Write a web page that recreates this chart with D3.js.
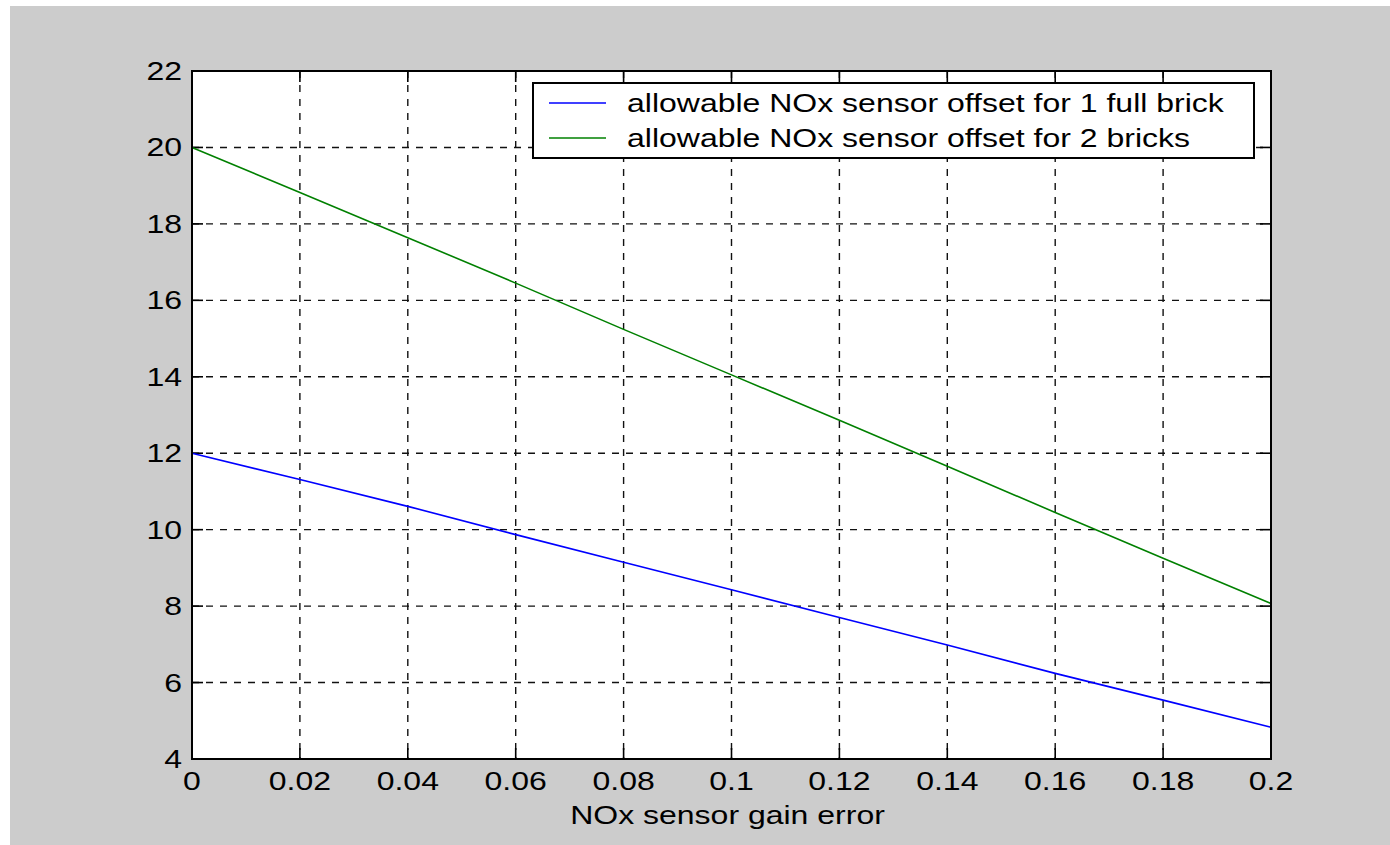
<!DOCTYPE html>
<html>
<head>
<meta charset="utf-8">
<script src="https://cdn.jsdelivr.net/npm/d3@7"></script>
<style>
  body { margin: 0; background: #fff; }
  svg { display: block; }
  text { font-family: "Liberation Sans", Arial, sans-serif; fill: #000; }
</style>
</head>
<body>
<svg id="chart" width="1390" height="845"></svg>
<script>
// data
var gainError = [0, 0.02, 0.04, 0.06, 0.08, 0.1, 0.12, 0.14, 0.16, 0.18, 0.2];
var offsetOneBrick = [12.0, 11.31, 10.61, 9.87, 9.15, 8.43, 7.70, 6.98, 6.24, 5.54, 4.83];
var offsetTwoBricks = [20.0, 18.82, 17.64, 16.45, 15.24, 14.05, 12.86, 11.66, 10.45, 9.25, 8.07];
var xTicks = [0, 0.02, 0.04, 0.06, 0.08, 0.1, 0.12, 0.14, 0.16, 0.18, 0.2];
var xTickLabels = ['0', '0.02', '0.04', '0.06', '0.08', '0.1', '0.12', '0.14', '0.16', '0.18', '0.2'];
var yTicks = [4, 6, 8, 10, 12, 14, 16, 18, 20, 22];
var seriesNames = ['allowable NOx sensor offset for 1 full brick', 'allowable NOx sensor offset for 2 bricks'];
var seriesColors = ['#0000ff', '#008000'];

function drawChart() {
    var svg = d3.select('#chart');

    // grey figure background
    svg.append('rect')
        .attr('x', 10).attr('y', 6)
        .attr('width', 1380).attr('height', 839)
        .attr('fill', '#cccccc');

    var plotLeft = 192, plotRight = 1271, plotTop = 71, plotBottom = 759;

    var x = d3.scaleLinear().domain([0, 0.2]).range([plotLeft, plotRight]);
    var y = d3.scaleLinear().domain([4, 22]).range([plotBottom, plotTop]);

    // text looks horizontally stretched in the original
    var stretch = 1.28;
    function addText(px, py, str, anchor, size) {
        return svg.append('text')
            .attr('transform', 'translate(' + px + ',' + py + ') scale(' + stretch + ',1)')
            .attr('text-anchor', anchor)
            .attr('font-size', size)
            .text(str);
    }

    // plot area
    svg.append('rect')
        .attr('x', plotLeft).attr('y', plotTop)
        .attr('width', plotRight - plotLeft).attr('height', plotBottom - plotTop)
        .attr('fill', '#fff');

    // grid
    var grid = svg.append('g')
        .attr('stroke', '#111')
        .attr('stroke-width', 1.4)
        .attr('stroke-dasharray', '7,7');

    grid.selectAll('.vgrid')
        .data(xTicks.slice(1, -1))
        .enter().append('line')
        .attr('x1', function (d) { return x(d); })
        .attr('x2', function (d) { return x(d); })
        .attr('y1', plotTop).attr('y2', plotBottom);

    grid.selectAll('.hgrid')
        .data(yTicks.slice(1, -1))
        .enter().append('line')
        .attr('x1', plotLeft).attr('x2', plotRight)
        .attr('y1', function (d) { return y(d); })
        .attr('y2', function (d) { return y(d); });

    // inner ticks on all four sides
    var tickLen = 11;
    var ticks = svg.append('g').attr('stroke', '#000').attr('stroke-width', 1.6);
    xTicks.forEach(function (d) {
        ticks.append('line').attr('x1', x(d)).attr('x2', x(d)).attr('y1', plotBottom).attr('y2', plotBottom - tickLen);
        ticks.append('line').attr('x1', x(d)).attr('x2', x(d)).attr('y1', plotTop).attr('y2', plotTop + tickLen);
    });
    yTicks.forEach(function (d) {
        ticks.append('line').attr('x1', plotLeft).attr('x2', plotLeft + tickLen).attr('y1', y(d)).attr('y2', y(d));
        ticks.append('line').attr('x1', plotRight).attr('x2', plotRight - tickLen).attr('y1', y(d)).attr('y2', y(d));
    });

    // data lines
    var line = d3.line()
        .x(function (d) { return x(d[0]); })
        .y(function (d) { return y(d[1]); });

    [offsetOneBrick, offsetTwoBricks].forEach(function (vals, i) {
        svg.append('path')
            .datum(d3.zip(gainError, vals))
            .attr('fill', 'none')
            .attr('stroke', seriesColors[i])
            .attr('stroke-width', 1.6)
            .attr('d', line);
    });

    // axes box
    svg.append('rect')
        .attr('x', plotLeft).attr('y', plotTop)
        .attr('width', plotRight - plotLeft).attr('height', plotBottom - plotTop)
        .attr('fill', 'none')
        .attr('stroke', '#000')
        .attr('stroke-width', 2);

    // tick labels
    xTicks.forEach(function (d, i) {
        addText(x(d), 790, xTickLabels[i], 'middle', 25);
    });
    yTicks.forEach(function (d) {
        addText(182, y(d) + 9, d, 'end', 25);
    });

    // axis title
    addText((plotLeft + plotRight) / 2 - 4, 824, 'NOx sensor gain error', 'middle', 25);

    // legend
    var legend = svg.append('g');
    legend.append('rect')
        .attr('x', 533).attr('y', 83)
        .attr('width', 721).attr('height', 75)
        .attr('fill', '#fff')
        .attr('stroke', '#000')
        .attr('stroke-width', 2);

    seriesNames.forEach(function (name, i) {
        var ly = 103 + i * 35;
        legend.append('line')
            .attr('x1', 549).attr('x2', 606)
            .attr('y1', ly).attr('y2', ly)
            .attr('stroke', seriesColors[i])
            .attr('stroke-width', 1.6);
        addText(627, ly + 9, name, 'start', 25);
    });
}

drawChart();
</script>
</body>
</html>
